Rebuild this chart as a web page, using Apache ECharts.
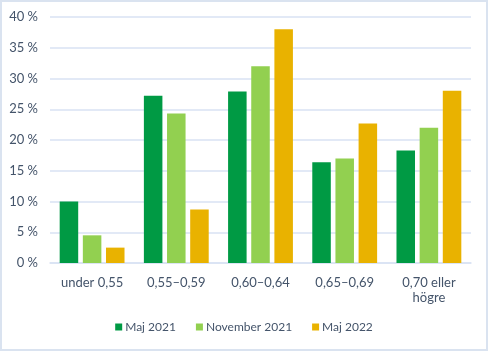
<!DOCTYPE html>
<html>
<head>
<meta charset="utf-8">
<script src="https://cdn.jsdelivr.net/npm/echarts@6/dist/echarts.min.js"></script>
<style>
  html, body { margin: 0; padding: 0; background: #fff; }
  #chart { width: 488px; height: 351px; box-sizing: border-box; border: 2px solid #DAE3F0; }
</style>
</head>
<body>
<div id="chart"></div>
<script>
const categories = ['under 0,55', '0,55–0,59', '0,60–0,64', '0,65–0,69', '0,70 eller\nhögre'];
const maj2021 = [10, 27.2, 27.9, 16.4, 18.3];
const nov2021 = [4.5, 24.3, 32, 17, 22];
const maj2022 = [2.5, 8.7, 38, 22.7, 28];

const textColor = '#44546A';
const font = 'Lato';

const chart = echarts.init(document.getElementById('chart'));
chart.setOption({
    animation: false,
    textStyle: { fontFamily: font },
    grid: { left: 48, right: 15, top: 15, bottom: 86 },
    legend: {
        bottom: 11,
        left: 'center',
        icon: 'rect',
        itemWidth: 7,
        itemHeight: 7,
        itemGap: 20,
        textStyle: { color: textColor, fontSize: 12, fontFamily: font, padding: [0, 0, 0, -2] },
        data: ['Maj 2021', 'November 2021', 'Maj 2022']
    },
    xAxis: {
        type: 'category',
        data: categories,
        axisLine: { lineStyle: { color: '#D9E2F3', width: 1.5 } },
        axisTick: { show: false },
        axisLabel: { color: textColor, fontSize: 13, margin: 12, lineHeight: 15 }
    },
    yAxis: {
        type: 'value',
        min: 0,
        max: 40,
        interval: 5,
        axisLine: { show: false },
        axisTick: { show: false },
        axisLabel: {
            color: textColor, fontSize: 13, margin: 12,
            formatter: v => v + ' %'
        },
        splitLine: { lineStyle: { color: '#D9E2F3', width: 1.5 } }
    },
    series: [
        { name: 'Maj 2021', type: 'bar', data: maj2021, barGap: '25%', barCategoryGap: '23%',
          itemStyle: { color: '#009A44' } },
        { name: 'November 2021', type: 'bar', data: nov2021,
          itemStyle: { color: '#92D050' } },
        { name: 'Maj 2022', type: 'bar', data: maj2022,
          itemStyle: { color: '#E9B200' } }
    ]
});
</script>
</body>
</html>
